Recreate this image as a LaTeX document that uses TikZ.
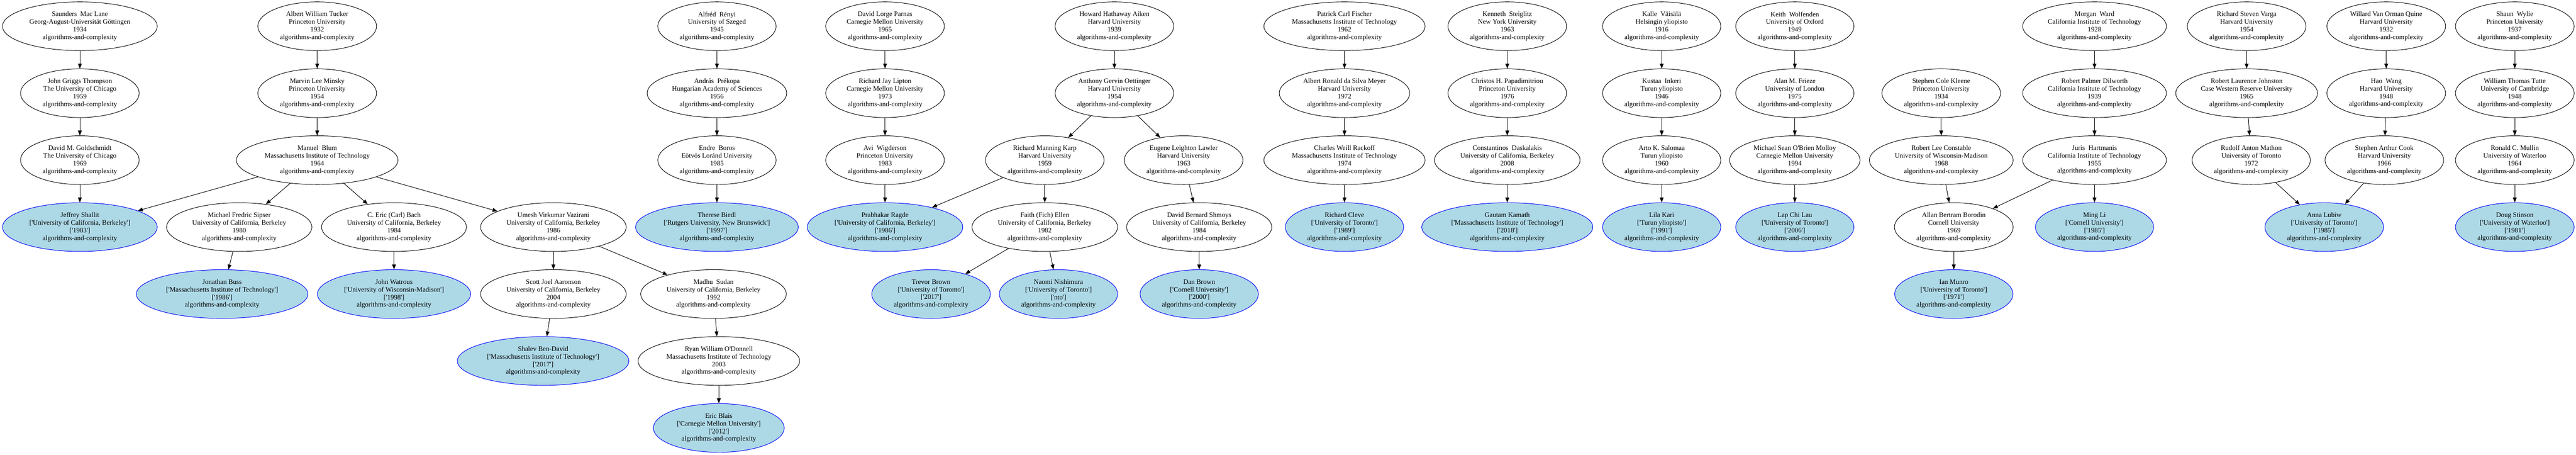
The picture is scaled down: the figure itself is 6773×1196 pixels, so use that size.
\documentclass[tikz,border=0pt]{standalone}
\usepackage{fontspec}
\setmainfont{Liberation Serif}
\usetikzlibrary{shapes.geometric, arrows.meta}
\definecolor{lightblue}{RGB}{173,216,230}
\newcommand{\q}{\textquotesingle}

\begin{document}
\begin{tikzpicture}[x=1pt, y=-1pt, node distance=176pt,
	every node/.style={align=center, font=\fontsize{18}{20}\selectfont},
	person/.style={ellipse, draw, line width=1.3pt, inner sep=0pt, minimum height=128pt, minimum width=#1},
	person/.default=312pt,
	member/.style={person=#1, draw=blue, fill=lightblue},
	member/.default=312pt,
	advises/.style={-{Triangle[length=13pt, width=10pt]}, line width=1.3pt}]
				\useasboundingbox (0,0) rectangle (6773,1196);

				% Nodes
				\node (maclane) [person=407pt] at (210,69) {Saunders\ \ Mac Lane\\Georg-August-Universität Göttingen\\1934\\algorithms-and-complexity};
				\node (thompson) [person, below of=maclane] {John Griggs Thompson\\The University of Chicago\\1959\\algorithms-and-complexity};
				\node (goldschmidt) [person, below of=thompson] {David M. Goldschmidt\\The University of Chicago\\1969\\algorithms-and-complexity};
				\node (shallit) [member=407pt, below of=goldschmidt] {Jeffrey Shallit\\{}[\q University of California, Berkeley\q]\\{}[\q 1983\q]\\algorithms-and-complexity};

				\node (tucker) [person] at (834,69) {Albert William Tucker\\Princeton University\\1932\\algorithms-and-complexity};
				\node (minsky) [person, below of=tucker] {Marvin Lee Minsky\\Princeton University\\1954\\algorithms-and-complexity};
				\node (blum) [person=425pt, below of=minsky] {Manuel\ \ Blum\\Massachusetts Institute of Technology\\1964\\algorithms-and-complexity};
				\node (sipser) [person=382pt, below of=blum, xshift=-205pt] {Michael Fredric Sipser\\University of California, Berkeley\\1980\\algorithms-and-complexity};
				\node (bach) [person=381pt, below of=blum, xshift=202pt] {C. Eric (Carl) Bach\\University of California, Berkeley\\1984\\algorithms-and-complexity};
				\node (vazirani) [person=383pt, below of=blum, xshift=621pt] {Umesh Virkumar Vazirani\\University of California, Berkeley\\1986\\algorithms-and-complexity};
				\node (buss) [member=451pt, below of=sipser, xshift=-45pt] {Jonathan Buss\\{}[\q Massachusetts Institute of Technology\q]\\{}[\q 1986\q]\\algorithms-and-complexity};
				\node (watrous) [member=403pt, below of=bach] {John Watrous\\{}[\q University of Wisconsin-Madison\q]\\{}[\q 1998\q]\\algorithms-and-complexity};
				\node (aaronson) [person=383pt, below of=vazirani] {Scott Joel Aaronson\\University of California, Berkeley\\2004\\algorithms-and-complexity};
				\node (sudan) [person=383pt, below of=vazirani, xshift=421pt] {Madhu\ \ Sudan\\University of California, Berkeley\\1992\\algorithms-and-complexity};
				\node (bendavid) [member=451pt, below of=aaronson, xshift=-27pt] {Shalev Ben-David\\{}[\q Massachusetts Institute of Technology\q]\\{}[\q 2017\q]\\algorithms-and-complexity};
				\node (odonnell) [person=425pt, below of=sudan, xshift=14pt] {Ryan William O\q Donnell\\Massachusetts Institute of Technology\\2003\\algorithms-and-complexity};
				\node (blais) [member=344pt, below of=odonnell] {Eric Blais\\{}[\q Carnegie Mellon University\q]\\{}[\q 2012\q]\\algorithms-and-complexity};

				\node (renyi) [person=311pt] at (1885,69) {Alfréd\ \ Rényi\\University of Szeged\\1945\\algorithms-and-complexity};
				\node (prekopa) [person=367pt, below of=renyi] {András\ \ Prékopa\\Hungarian Academy of Sciences\\1956\\algorithms-and-complexity};
				\node (boros) [person=311pt, below of=prekopa] {Endre\ \ Boros\\Eötvös Loránd University\\1985\\algorithms-and-complexity};
				\node (biedl) [member=428pt, below of=boros] {Therese Biedl\\{}[\q Rutgers University, New Brunswick\q]\\{}[\q 1997\q]\\algorithms-and-complexity};

				\node (parnas) [person] at (2327,69) {David Lorge Parnas\\Carnegie Mellon University\\1965\\algorithms-and-complexity};
				\node (lipton) [person, below of=parnas] {Richard Jay Lipton\\Carnegie Mellon University\\1973\\algorithms-and-complexity};
				\node (wigderson) [person, below of=lipton] {Avi\ \ Wigderson\\Princeton University\\1983\\algorithms-and-complexity};
				\node (ragde) [member=409pt, below of=wigderson] {Prabhakar Ragde\\{}[\q University of California, Berkeley\q]\\{}[\q 1986\q]\\algorithms-and-complexity};

				\node (aiken) [person] at (2930,69) {Howard Hathaway Aiken\\Harvard University\\1939\\algorithms-and-complexity};
				\node (oettinger) [person, below of=aiken] {Anthony Gervin Oettinger\\Harvard University\\1954\\algorithms-and-complexity};
				\node (karp) [person, below of=oettinger, xshift=-183pt] {Richard Manning Karp\\Harvard University\\1959\\algorithms-and-complexity};
				\node (lawler) [person, below of=oettinger, xshift=182pt] {Eugene Leighton Lawler\\Harvard University\\1963\\algorithms-and-complexity};
				\node (ellen) [person=383pt, below of=karp] {Faith (Fich) Ellen\\University of California, Berkeley\\1982\\algorithms-and-complexity};
				\node (shmoys) [person=382pt, below of=lawler, xshift=41pt] {David Bernard Shmoys\\University of California, Berkeley\\1984\\algorithms-and-complexity};
				\node (tbrown) [member, below of=ellen, xshift=-299pt] {Trevor Brown\\{}[\q University of Toronto\q]\\{}[\q 2017\q]\\algorithms-and-complexity};
				\node (nishimura) [member=311pt, below of=ellen, xshift=36pt] {Naomi Nishimura\\{}[\q University of Toronto\q]\\{}[\q nto\q]\\algorithms-and-complexity};
				\node (dbrown) [member=311pt, below of=shmoys] {Dan Brown\\{}[\q Cornell University\q]\\{}[\q 2000\q]\\algorithms-and-complexity};

				\node (fischer) [person=424pt] at (3535,69) {Patrick Carl Fischer\\Massachusetts Institute of Technology\\1962\\algorithms-and-complexity};
				\node (meyer) [person=343pt, below of=fischer] {Albert Ronald da Silva Meyer\\Harvard University\\1972\\algorithms-and-complexity};
				\node (rackoff) [person=424pt, below of=meyer] {Charles Weill Rackoff\\Massachusetts Institute of Technology\\1974\\algorithms-and-complexity};
				\node (cleve) [member=311pt, below of=rackoff] {Richard Cleve\\{}[\q University of Toronto\q]\\{}[\q 1989\q]\\algorithms-and-complexity};

				\node (steiglitz) [person] at (3963,69) {Kenneth\ \ Steiglitz\\New York University\\1963\\algorithms-and-complexity};
				\node (papadimitriou) [person, below of=steiglitz] {Christos H. Papadimitriou\\Princeton University\\1976\\algorithms-and-complexity};
				\node (daskalakis) [person=383pt, below of=papadimitriou] {Constantinos\ \ Daskalakis\\University of California, Berkeley\\2008\\algorithms-and-complexity};
				\node (kamath) [member=450pt, below of=daskalakis] {Gautam Kamath\\{}[\q Massachusetts Institute of Technology\q]\\{}[\q 2018\q]\\algorithms-and-complexity};

				\node (vaisala) [person=311pt] at (4369,69) {Kalle\ \ Väisälä\\Helsingin yliopisto\\1916\\algorithms-and-complexity};
				\node (inkeri) [person=311pt, below of=vaisala] {Kustaa\ \ Inkeri\\Turun yliopisto\\1946\\algorithms-and-complexity};
				\node (salomaa) [person=311pt, below of=inkeri] {Arto K. Salomaa\\Turun yliopisto\\1960\\algorithms-and-complexity};
				\node (kari) [member=311pt, below of=salomaa] {Lila Kari\\{}[\q Turun yliopisto\q]\\{}[\q 1991\q]\\algorithms-and-complexity};

				\node (wolfenden) [person=311pt] at (4719,69) {Keith\ \ Wolfenden\\University of Oxford\\1949\\algorithms-and-complexity};
				\node (frieze) [person=311pt, below of=wolfenden] {Alan M. Frieze\\University of London\\1975\\algorithms-and-complexity};
				\node (molloy) [person=343pt, below of=frieze] {Michael Sean O\q Brien Molloy\\Carnegie Mellon University\\1994\\algorithms-and-complexity};
				\node (lau) [member=311pt, below of=molloy] {Lap Chi Lau\\{}[\q University of Toronto\q]\\{}[\q 2006\q]\\algorithms-and-complexity};

				\node (kleene) [person] at (5104,245) {Stephen Cole Kleene\\Princeton University\\1934\\algorithms-and-complexity};
				\node (constable) [person=378pt, below of=kleene] {Robert Lee Constable\\University of Wisconsin-Madison\\1968\\algorithms-and-complexity};
				\node (borodin) [person, below of=constable, xshift=33pt] {Allan Bertram Borodin\\Cornell University\\1969\\algorithms-and-complexity};
				\node (munro) [member=311pt, below of=borodin] {Ian Munro\\{}[\q University of Toronto\q]\\{}[\q 1971\q]\\algorithms-and-complexity};

				\node (ward) [person=378pt] at (5507,69) {Morgan\ \ Ward\\California Institute of Technology\\1928\\algorithms-and-complexity};
				\node (dilworth) [person=378pt, below of=ward] {Robert Palmer Dilworth\\California Institute of Technology\\1939\\algorithms-and-complexity};
				\node (hartmanis) [person=378pt, below of=dilworth] {Juris\ \ Hartmanis\\California Institute of Technology\\1955\\algorithms-and-complexity};
				\node (mingli) [member=311pt, below of=hartmanis] {Ming Li\\{}[\q Cornell University\q]\\{}[\q 1985\q]\\algorithms-and-complexity};

				\node (varga) [person] at (5907,69) {Richard Steven Varga\\Harvard University\\1954\\algorithms-and-complexity};
				\node (johnston) [person=373pt, below of=varga] {Robert Laurence Johnston\\Case Western Reserve University\\1965\\algorithms-and-complexity};
				\node (mathon) [person=311pt, below of=johnston, xshift=12pt] {Rudolf Anton Mathon\\University of Toronto\\1972\\algorithms-and-complexity};
				\node (lubiw) [member, below of=mathon, xshift=192pt] {Anna Lubiw\\{}[\q University of Toronto\q]\\{}[\q 1985\q]\\algorithms-and-complexity};

				\node (quine) [person] at (6274,69) {Willard Van Orman Quine\\Harvard University\\1932\\algorithms-and-complexity};
				\node (wang) [person, below of=quine] {Hao\ \ Wang\\Harvard University\\1948\\algorithms-and-complexity};
				\node (cook) [person, below of=wang, xshift=-5pt] {Stephen Arthur Cook\\Harvard University\\1966\\algorithms-and-complexity};

				\node (wylie) [person] at (6612,69) {Shaun\ \ Wylie\\Princeton University\\1937\\algorithms-and-complexity};
				\node (tutte) [person, below of=wylie] {William Thomas Tutte\\University of Cambridge\\1948\\algorithms-and-complexity};
				\node (mullin) [person, below of=tutte] {Ronald C. Mullin\\University of Waterloo\\1964\\algorithms-and-complexity};
				\node (stinson) [member, below of=mullin] {Doug Stinson\\{}[\q University of Waterloo\q]\\{}[\q 1981\q]\\algorithms-and-complexity};

				% Arrows
				\draw[advises] (maclane) -- (thompson);
				\draw[advises] (thompson) -- (goldschmidt);
				\draw[advises] (goldschmidt) -- (shallit);
				\draw[advises] (tucker) -- (minsky);
				\draw[advises] (minsky) -- (blum);
				\draw[advises] (blum) -- (shallit);
				\draw[advises] (blum) -- (sipser);
				\draw[advises] (blum) -- (bach);
				\draw[advises] (blum) -- (vazirani);
				\draw[advises] (sipser) -- (buss);
				\draw[advises] (bach) -- (watrous);
				\draw[advises] (vazirani) -- (aaronson);
				\draw[advises] (vazirani) -- (sudan);
				\draw[advises] (aaronson) -- (bendavid);
				\draw[advises] (sudan) -- (odonnell);
				\draw[advises] (odonnell) -- (blais);
				\draw[advises] (renyi) -- (prekopa);
				\draw[advises] (prekopa) -- (boros);
				\draw[advises] (boros) -- (biedl);
				\draw[advises] (parnas) -- (lipton);
				\draw[advises] (lipton) -- (wigderson);
				\draw[advises] (wigderson) -- (ragde);
				\draw[advises] (aiken) -- (oettinger);
				\draw[advises] (oettinger) -- (karp);
				\draw[advises] (oettinger) -- (lawler);
				\draw[advises] (karp) -- (ragde);
				\draw[advises] (karp) -- (ellen);
				\draw[advises] (ellen) -- (tbrown);
				\draw[advises] (ellen) -- (nishimura);
				\draw[advises] (lawler) -- (shmoys);
				\draw[advises] (shmoys) -- (dbrown);
				\draw[advises] (fischer) -- (meyer);
				\draw[advises] (meyer) -- (rackoff);
				\draw[advises] (rackoff) -- (cleve);
				\draw[advises] (steiglitz) -- (papadimitriou);
				\draw[advises] (papadimitriou) -- (daskalakis);
				\draw[advises] (daskalakis) -- (kamath);
				\draw[advises] (vaisala) -- (inkeri);
				\draw[advises] (inkeri) -- (salomaa);
				\draw[advises] (salomaa) -- (kari);
				\draw[advises] (wolfenden) -- (frieze);
				\draw[advises] (frieze) -- (molloy);
				\draw[advises] (molloy) -- (lau);
				\draw[advises] (kleene) -- (constable);
				\draw[advises] (constable) -- (borodin);
				\draw[advises] (borodin) -- (munro);
				\draw[advises] (ward) -- (dilworth);
				\draw[advises] (dilworth) -- (hartmanis);
				\draw[advises] (hartmanis) -- (borodin);
				\draw[advises] (hartmanis) -- (mingli);
				\draw[advises] (varga) -- (johnston);
				\draw[advises] (johnston) -- (mathon);
				\draw[advises] (mathon) -- (lubiw);
				\draw[advises] (quine) -- (wang);
				\draw[advises] (wang) -- (cook);
				\draw[advises] (cook) -- (lubiw);
				\draw[advises] (wylie) -- (tutte);
				\draw[advises] (tutte) -- (mullin);
				\draw[advises] (mullin) -- (stinson);
			\end{tikzpicture}
\end{document}
